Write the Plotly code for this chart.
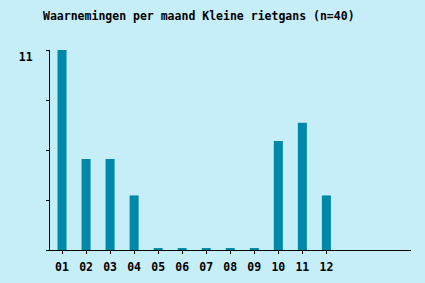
import numpy as np
import plotly.graph_objects as go

months = ["01", "02", "03", "04", "05", "06", "07", "08", "09", "10", "11", "12"]
counts = [11, 5, 5, 3, 0, 0, 0, 0, 0, 6, 7, 3]
y_tick_vals = [0, 2.75, 5.5, 8.25, 11]
y_tick_text = ["", "", "", "", "11"]

bg = "#c6eef8"
bar_color = "#0088a8"
font_mono = "DejaVu Sans Mono"

xpos = np.arange(len(months))
# zero months are drawn as a small stub, like the reference
display = np.where(np.array(counts) == 0, 0.1, np.array(counts, dtype=float))

fig = go.Figure()
fig.add_trace(go.Bar(
    x=xpos, y=display, width=0.375,
    marker=dict(color=bar_color, line=dict(width=0)),
    customdata=counts, hovertemplate="%{customdata}<extra></extra>",
))

fig.update_layout(
    width=425, height=283,
    paper_bgcolor=bg, plot_bgcolor=bg,
    margin=dict(l=50, r=14, t=50, b=33),
    showlegend=False,
    title=dict(text="<b>Waarnemingen per maand Kleine rietgans (n=40)</b>",
               x=43 / 425, xanchor="left", y=1 - 16 / 283, yanchor="middle",
               font=dict(family=font_mono, size=11.5, color="black")),
    xaxis=dict(range=[-0.5, 14.52], tickvals=list(xpos),
               ticktext=["<b>%s</b>" % m for m in months],
               showgrid=False, zeroline=False, showline=True, linecolor="black",
               linewidth=1, ticks="outside", ticklen=3, tickcolor="black",
               ticklabelstandoff=3, automargin=False,
               tickfont=dict(family=font_mono, size=11.5, color="black"),
               fixedrange=True),
    yaxis=dict(range=[0, 11], tickvals=y_tick_vals,
               ticktext=["<b>%s</b>" % t if t else "" for t in y_tick_text],
               showgrid=False, zeroline=False, showline=True, linecolor="black",
               linewidth=1, ticks="outside", ticklen=3, tickcolor="black",
               ticklabelstandoff=11, ticklabelshift=7, automargin=False,
               tickfont=dict(family=font_mono, size=11.5, color="black"),
               fixedrange=True),
)

fig.write_html("out.html")
